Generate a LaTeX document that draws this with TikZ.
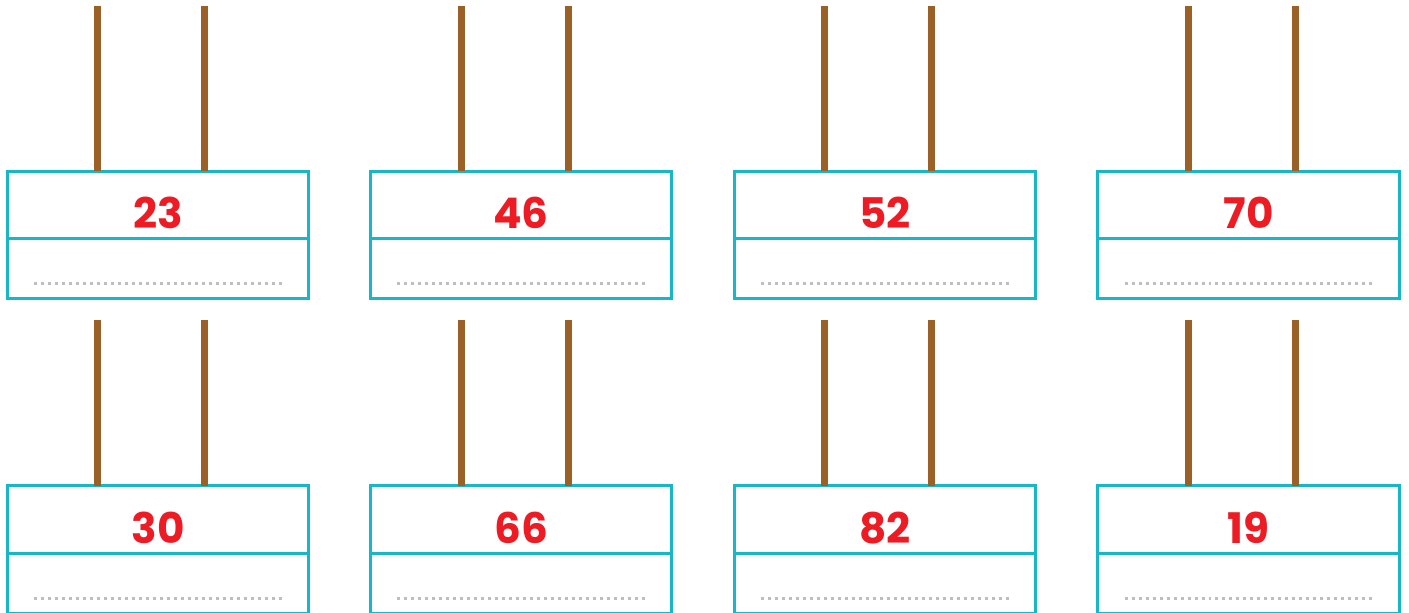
\documentclass[tikz,border=0pt]{standalone}
\usepackage{fontspec}
\newfontfamily\numfont{Poppins}
\usetikzlibrary{positioning}

\definecolor{cellline}{RGB}{22,184,200}
\definecolor{rodbrown}{RGB}{154,96,38}
\definecolor{numred}{RGB}{237,28,36}
\definecolor{dotgray}{RGB}{190,190,190}

\begin{document}
\begin{tikzpicture}[
    x=0.02cm, y=-0.02cm,
    numcell/.style={rectangle, draw=cellline, line width=0.06cm, outer sep=0pt, minimum width=6.04cm, minimum height=1.36cm, text height=0.96cm, text depth=0cm, font=\numfont\bfseries\fontsize{24}{24}\selectfont, text=numred},
    anscell/.style={rectangle, draw=cellline, line width=0.06cm, outer sep=0pt, minimum width=6.04cm, minimum height=1.2cm},
    rod/.style={draw=rodbrown, line width=0.14cm},
    dots/.style={draw=dotgray, line width=0.06cm, dash pattern=on 0.06cm off 0.08cm}
]
    \useasboundingbox (0,0) rectangle (1409,612);

    % first row
    \node [numcell] (n23) at (158,205) {23};
    \node [anscell, below=0pt of n23] (a23) {};
    \node [numcell] (n46) at (521,205) {46};
    \node [anscell, below=0pt of n46] (a46) {};
    \node [numcell] (n52) at (885,205) {52};
    \node [anscell, below=0pt of n52] (a52) {};
    \node [numcell] (n70) at (1248.5,205) {70};
    \node [anscell, below=0pt of n70] (a70) {};

    % second row
    \node [numcell] (n30) at (158,519.5) {30};
    \node [anscell, below=0pt of n30] (a30) {};
    \node [numcell] (n66) at (521,519.5) {66};
    \node [anscell, below=0pt of n66] (a66) {};
    \node [numcell] (n82) at (885,519.5) {82};
    \node [anscell, below=0pt of n82] (a82) {};
    \node [numcell] (n19) at (1248.5,519.5) {19};
    \node [anscell, below=0pt of n19] (a19) {};

    % rods: tens and ones
    \coordinate (t23a) at (97.5,6);    \coordinate (t23b) at (204.5,6);
    \coordinate (t46a) at (461,6);     \coordinate (t46b) at (568,6);
    \coordinate (t52a) at (824.5,6);   \coordinate (t52b) at (931.5,6);
    \coordinate (t70a) at (1188,6);    \coordinate (t70b) at (1295,6);
    \coordinate (t30a) at (97.5,320);  \coordinate (t30b) at (204.5,320);
    \coordinate (t66a) at (461,320);   \coordinate (t66b) at (568,320);
    \coordinate (t82a) at (824.5,320); \coordinate (t82b) at (931.5,320);
    \coordinate (t19a) at (1188,320);  \coordinate (t19b) at (1295,320);

    \draw [rod] (t23a) -- (t23a |- n23.north);
    \draw [rod] (t23b) -- (t23b |- n23.north);
    \draw [rod] (t46a) -- (t46a |- n46.north);
    \draw [rod] (t46b) -- (t46b |- n46.north);
    \draw [rod] (t52a) -- (t52a |- n52.north);
    \draw [rod] (t52b) -- (t52b |- n52.north);
    \draw [rod] (t70a) -- (t70a |- n70.north);
    \draw [rod] (t70b) -- (t70b |- n70.north);
    \draw [rod] (t30a) -- (t30a |- n30.north);
    \draw [rod] (t30b) -- (t30b |- n30.north);
    \draw [rod] (t66a) -- (t66a |- n66.north);
    \draw [rod] (t66b) -- (t66b |- n66.north);
    \draw [rod] (t82a) -- (t82a |- n82.north);
    \draw [rod] (t82b) -- (t82b |- n82.north);
    \draw [rod] (t19a) -- (t19a |- n19.north);
    \draw [rod] (t19b) -- (t19b |- n19.north);

    % answer lines
    \draw [dots] ([shift={(-124,15)}]a23.center) -- ([shift={(124,15)}]a23.center);
    \draw [dots] ([shift={(-124,15)}]a46.center) -- ([shift={(124,15)}]a46.center);
    \draw [dots] ([shift={(-124,15)}]a52.center) -- ([shift={(124,15)}]a52.center);
    \draw [dots] ([shift={(-124,15)}]a70.center) -- ([shift={(124,15)}]a70.center);
    \draw [dots] ([shift={(-124,15)}]a30.center) -- ([shift={(124,15)}]a30.center);
    \draw [dots] ([shift={(-124,15)}]a66.center) -- ([shift={(124,15)}]a66.center);
    \draw [dots] ([shift={(-124,15)}]a82.center) -- ([shift={(124,15)}]a82.center);
    \draw [dots] ([shift={(-124,15)}]a19.center) -- ([shift={(124,15)}]a19.center);
\end{tikzpicture}
\end{document}
